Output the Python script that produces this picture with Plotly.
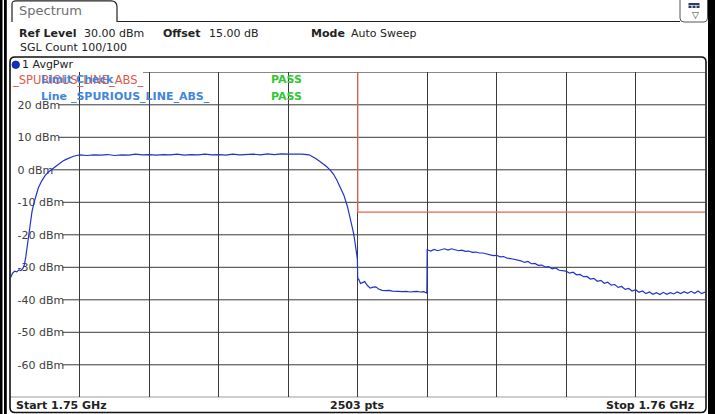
import plotly.graph_objects as go

# ---------------- data ----------------
start_mhz = 1750.0
stop_mhz = 1760.0

rise_offset = [0.00, 0.03, 0.06, 0.09, 0.12, 0.15, 0.18, 0.20, 0.22, 0.25, 0.28, 0.31, 0.34,
               0.37, 0.40, 0.45, 0.50, 0.55, 0.60, 0.65, 0.70, 0.75, 0.80, 0.85, 0.90, 0.95]
rise_level = [-33.2, -31.8, -31.2, -31.4, -30.8, -31.0, -30.3, -29.2, -26.8, -21.8, -16.3, -12.8, -10.0,
              -7.6, -5.6, -3.4, -1.7, -0.6, 0.2, 1.0, 1.9, 2.6, 3.2, 3.7, 4.1, 4.4]

flat_offset = [1.0, 1.1, 1.2, 1.3, 1.4, 1.5, 1.6, 1.7, 1.8, 1.9, 2.0, 2.1, 2.2, 2.3, 2.4, 2.5,
               2.6, 2.7, 2.8, 2.9, 3.0, 3.1, 3.2, 3.3, 3.4, 3.5, 3.6, 3.7, 3.8, 3.9, 4.0, 4.1, 4.2]
flat_level = [4.6, 4.4, 4.6, 4.5, 4.7, 4.4, 4.6, 4.5, 4.8, 4.6, 4.7, 4.5, 4.7, 4.6, 4.8, 4.5,
              4.7, 4.6, 4.8, 4.6, 4.7, 4.5, 4.8, 4.6, 4.7, 4.8, 4.6, 4.9, 4.7, 4.9, 4.8, 4.9, 4.8]

rolloff_offset = [4.30, 4.35, 4.40, 4.45, 4.50, 4.55, 4.60, 4.65, 4.70, 4.75, 4.80, 4.85, 4.88,
                  4.91, 4.94, 4.96, 4.98, 4.995, 5.000]
rolloff_level = [4.6, 4.1, 3.4, 2.6, 1.9, 1.0, 0.0, -1.3, -3.2, -5.3, -7.8, -11.2, -13.8,
                 -16.2, -19.5, -22.3, -25.2, -27.5, -33.8]

gap_offset = [5.01, 5.04, 5.07, 5.10, 5.14, 5.18, 5.22, 5.26, 5.30, 5.35, 5.40, 5.45, 5.50,
              5.55, 5.60, 5.65, 5.70, 5.75, 5.80, 5.85, 5.90, 5.95, 5.995]
gap_level = [-33.5, -35.0, -34.6, -34.4, -35.6, -36.4, -36.1, -36.0, -36.7, -37.1, -37.2, -37.1, -37.3,
             -37.4, -37.3, -37.5, -37.4, -37.6, -37.5, -37.4, -37.6, -37.5, -37.9]

tail_offset = [6.00, 6.05, 6.10, 6.15, 6.20, 6.25, 6.30, 6.35, 6.40, 6.45, 6.50, 6.55, 6.60, 6.65,
               6.70, 6.75, 6.80, 6.85, 6.90, 6.95, 7.00, 7.05, 7.10, 7.15, 7.20, 7.25, 7.30, 7.35,
               7.40, 7.45, 7.50, 7.55, 7.60, 7.65, 7.70, 7.75, 7.80, 7.85, 7.90, 7.95, 8.00, 8.05,
               8.10, 8.15, 8.20, 8.25, 8.30, 8.35, 8.40, 8.45, 8.50, 8.55, 8.60, 8.65, 8.70, 8.75,
               8.80, 8.85, 8.90, 8.95, 9.00, 9.05, 9.10, 9.15, 9.20, 9.25, 9.30, 9.35, 9.40, 9.45,
               9.50, 9.55, 9.60, 9.65, 9.70, 9.75, 9.80, 9.85, 9.90, 9.95, 10.00]
tail_level = [-24.6, -25.0, -24.5, -24.9, -24.6, -24.3, -24.7, -24.3, -24.6, -24.9, -24.7, -25.1, -25.0, -25.4,
              -25.3, -25.6, -25.6, -25.9, -26.0, -26.4, -26.3, -26.8, -26.7, -27.2, -27.3, -27.5, -27.9, -28.0,
              -28.5, -28.2, -28.9, -28.8, -29.4, -29.3, -29.9, -29.8, -30.5, -30.2, -30.9, -31.0, -31.2, -31.8,
              -31.5, -32.3, -32.2, -32.9, -32.8, -33.6, -33.4, -34.3, -34.0, -34.9, -34.6, -35.5, -35.3, -36.2,
              -35.9, -36.8, -36.5, -37.3, -36.9, -37.7, -37.3, -38.1, -37.6, -38.3, -37.8, -38.4, -37.7, -38.3,
              -37.8, -38.2, -37.6, -38.1, -37.5, -38.0, -37.4, -38.0, -37.3, -38.1, -37.6]

# limit line _SPURIOUS_LINE_ABS_
limit_mhz = [1750.0, 1755.0, 1755.0, 1760.0]
limit_dbm = [40.0, 40.0, -13.0, -13.0]

y_ticks = [20, 10, 0, -10, -20, -30, -40, -50, -60]
y_tick_text = ["20 dBm", "10 dBm", "0 dBm", "-10 dBm", "-20 dBm", "-30 dBm", "-40 dBm", "-50 dBm", "-60 dBm"]
y_range = [-70, 30]

header_labels = ["Ref Level", "Offset", "Mode"]
header_values = ["30.00 dBm", "15.00 dB", "Auto Sweep"]
count_text = "SGL Count 100/100"
trace_label = "1 AvgPwr"
limit_name = "_SPURIOUS_LINE_ABS_"
footer_texts = ["Start 1.75 GHz", "2503 pts", "Stop 1.76 GHz"]

# ---------------- build ----------------
offsets = rise_offset + flat_offset + rolloff_offset + gap_offset + tail_offset
levels = rise_level + flat_level + rolloff_level + gap_level + tail_level
freqs = [start_mhz + o for o in offsets]

W, H = 715, 414
FONT = "DejaVu Sans"
GRID = "#3a3a3a"


def px(x):
    return x / W


def py(y):
    return 1 - y / H


def text_width(s, size=11):
    w = {"-": 0.361, " ": 0.318, "d": 0.635, "B": 0.686, "m": 0.974}
    return sum(w.get(c, 0.636) for c in s) * size


fig = go.Figure()

fig.add_trace(go.Scatter(x=limit_mhz, y=limit_dbm, mode="lines",
                         line=dict(color="#e8644f", width=1.3), hoverinfo="skip"))
fig.add_trace(go.Scatter(x=freqs, y=levels, mode="lines",
                         line=dict(color="#1f33cc", width=1.2), hoverinfo="skip"))

x0p, x1p = 10.5, 705.0
y_top, y_bot = 72.3, 397.3

fig.update_layout(
    width=W, height=H,
    margin=dict(l=0, r=0, t=0, b=0),
    paper_bgcolor="white", plot_bgcolor="white",
    showlegend=False,
    xaxis=dict(range=[start_mhz, stop_mhz], domain=[px(x0p), px(x1p)],
               showgrid=True, gridcolor=GRID, gridwidth=1, dtick=1, tick0=start_mhz,
               showticklabels=False, zeroline=False, showline=False, ticks="", fixedrange=True),
    yaxis=dict(range=y_range, domain=[py(y_bot), py(y_top)],
               showgrid=False, zeroline=False, showline=False, ticks="",
               tickvals=y_ticks, ticktext=y_tick_text, ticklabelposition="inside",
               ticklabelstandoff=4, layer="below traces",
               tickfont=dict(family=FONT, size=11, color="#404040"), fixedrange=True),
)

shapes = []
# horizontal grid lines starting after their labels
for v, t in zip(y_ticks, y_tick_text):
    xs = 15 + text_width(t) + 0.5
    shapes.append(dict(type="line", xref="paper", yref="y", x0=px(xs), x1=px(x1p), y0=v, y1=v,
                       line=dict(color=GRID, width=1), layer="below"))
# top grid line (partly hidden by the limit name)
shapes.append(dict(type="line", xref="paper", yref="y", x0=px(143), x1=px(x1p), y0=y_range[1], y1=y_range[1],
                   line=dict(color=GRID, width=1), layer="below"))
# bottom grid line / status separator
shapes.append(dict(type="line", xref="paper", yref="y", x0=px(10), x1=px(706), y0=y_range[0], y1=y_range[0],
                   line=dict(color=GRID, width=1.2), layer="above"))


def rrect_path(xa, ya, xb, yb, r):
    pts = [
        ("M", xa + r, ya), ("L", xb - r, ya), ("Q", xb, ya, xb, ya + r),
        ("L", xb, yb - r), ("Q", xb, yb, xb - r, yb), ("L", xa + r, yb),
        ("Q", xa, yb, xa, yb - r), ("L", xa, ya + r), ("Q", xa, ya, xa + r, ya),
    ]
    out = []
    for p in pts:
        if p[0] == "Q":
            out.append(f"Q {px(p[1]):.5f},{py(p[2]):.5f} {px(p[3]):.5f},{py(p[4]):.5f}")
        else:
            out.append(f"{p[0]} {px(p[1]):.5f},{py(p[2]):.5f}")
    return " ".join(out) + " Z"


# main rounded frame
shapes.append(dict(type="path", xref="paper", yref="paper", path=rrect_path(10, 57, 706, 412.5, 5),
                   line=dict(color="#111111", width=1.6), layer="above"))
# tab "Spectrum"
tab = (f"M {px(12):.5f},{py(22):.5f} L {px(12):.5f},{py(4):.5f} Q {px(12):.5f},{py(0.8):.5f} {px(16):.5f},{py(0.8):.5f} "
       f"L {px(111):.5f},{py(0.8):.5f} Q {px(117):.5f},{py(0.8):.5f} {px(117):.5f},{py(7):.5f} L {px(117):.5f},{py(21.5):.5f} "
       f"L {px(680):.5f},{py(21.5):.5f}")
shapes.append(dict(type="path", xref="paper", yref="paper", path=tab,
                   line=dict(color="#222222", width=1.2), layer="above"))
# icon box top right
icon = (f"M {px(680):.5f},{py(-2):.5f} L {px(680):.5f},{py(18):.5f} Q {px(680):.5f},{py(22):.5f} {px(684):.5f},{py(22):.5f} "
        f"L {px(704):.5f},{py(22):.5f} Q {px(707.5):.5f},{py(22):.5f} {px(707.5):.5f},{py(18):.5f} L {px(707.5):.5f},{py(-2):.5f}")
shapes.append(dict(type="path", xref="paper", yref="paper", path=icon,
                   line=dict(color="#555555", width=1), layer="above"))
shapes.append(dict(type="rect", xref="paper", yref="paper", x0=px(688.5), x1=px(699.5), y0=py(8), y1=py(3),
                   fillcolor="#2c3a66", line=dict(width=0), layer="above"))
for xx in (692, 696):
    shapes.append(dict(type="line", xref="paper", yref="paper", x0=px(xx), x1=px(xx), y0=py(5), y1=py(8),
                       line=dict(color="white", width=1), layer="above"))
shapes.append(dict(type="line", xref="paper", yref="paper", x0=px(688.5), x1=px(699.5), y0=py(5.5), y1=py(5.5),
                   line=dict(color="white", width=0.6), layer="above"))
# window borders
for xa, xb in ((0, 2.5), (4, 6.8), (708, 715)):
    shapes.append(dict(type="rect", xref="paper", yref="paper", x0=px(xa), x1=px(xb), y0=py(H), y1=py(0),
                       fillcolor="#000000", line=dict(width=0), layer="above"))
# trace dot
shapes.append(dict(type="circle", xref="paper", yref="paper", x0=px(12), x1=px(19.5), y0=py(68.5), y1=py(61),
                   fillcolor="#1030c8", line=dict(color="#0a1f8a", width=0.8), layer="above"))

fig.update_layout(shapes=shapes)

anns = []


def ann(x, y, text, size=11, color="#222222", bold=False, xanchor="left", bg=None):
    d = dict(xref="paper", yref="paper", x=px(x), y=py(y), text=text, showarrow=False,
             xanchor=xanchor, yanchor="middle",
             font=dict(family=FONT, size=size, color=color, weight="bold" if bold else "normal"),
             borderpad=0)
    if bg:
        d["bgcolor"] = bg
    anns.append(d)


ann(18, 10.5, "Spectrum", size=13, color="#6e6e6e")
ann(695, 14.5, "▽", size=9, color="#333333", xanchor="center")
ann(18, 33, header_labels[0], bold=True)
ann(83, 33, header_values[0])
ann(162, 33, header_labels[1], bold=True)
ann(208, 33, header_values[1])
ann(310, 33, header_labels[2], bold=True)
ann(350, 33, header_values[2])
ann(19, 47, count_text)
ann(21, 64.5, trace_label)
# in the reference the limit name and "Limit Check" are drawn on top of each other
ann(10.5, 80, limit_name, size=11.5, color="#e0594a")
ann(40, 80, "Limit Check", size=11, color="#3f86dc", bold=True)
ann(270, 80, "PASS", size=11, color="#2fc832", bold=True)
ann(40, 96, "Line " + limit_name, size=11, color="#3f86dc", bold=True)
ann(270, 96, "PASS", size=11, color="#2fc832", bold=True)
ann(15, 405, footer_texts[0], bold=True)
ann(357, 405, footer_texts[1], bold=True, xanchor="center")
ann(695, 405, footer_texts[2], bold=True, xanchor="right")

fig.update_layout(annotations=anns)

fig.write_html("out.html",
               config={"displayModeBar": False, "staticPlot": True},
               post_script="document.body.style.margin='0';document.body.style.padding='0';"
                           "document.body.style.overflow='hidden';")
